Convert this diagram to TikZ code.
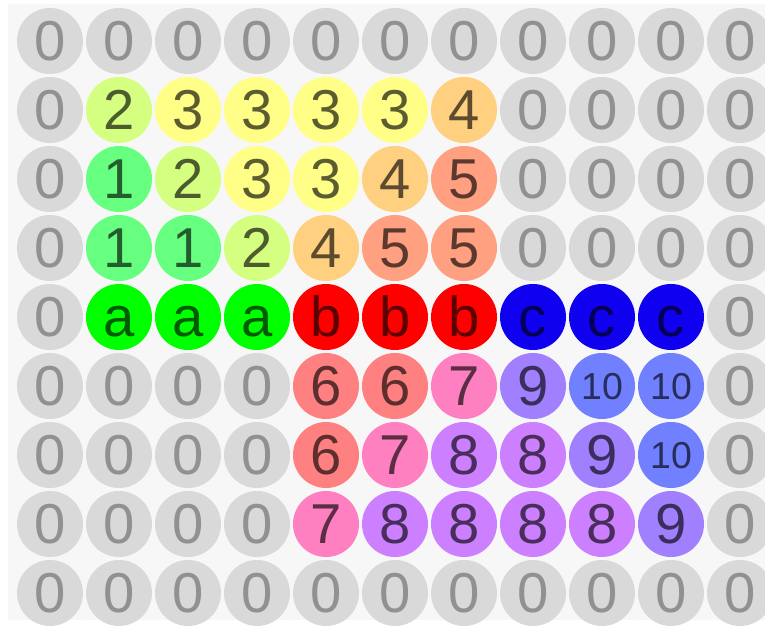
\documentclass[tikz,border=0pt]{standalone}
\usepackage{fontspec}
\setmainfont{Liberation Sans}
\usepackage{tikz}
\usetikzlibrary{positioning, calc}

\definecolor{bggrey}     {RGB}{247, 247, 247}
\definecolor{zerogrey}   {RGB}{217, 217, 217}
\definecolor{zerotext}   {RGB}{145, 145, 145}
\definecolor{valone}     {RGB}{102, 255, 128}
\definecolor{valtwo}     {RGB}{212, 255, 128}
\definecolor{valthree}   {RGB}{255, 255, 136}
\definecolor{valfour}    {RGB}{255, 208, 128}
\definecolor{valfive}    {RGB}{255, 160, 128}
\definecolor{valsix}     {RGB}{255, 128, 128}
\definecolor{valseven}   {RGB}{255, 128, 192}
\definecolor{valeight}   {RGB}{204, 128, 255}
\definecolor{valnine}    {RGB}{160, 128, 255}
\definecolor{valten}     {RGB}{112, 128, 255}
\definecolor{grpa}       {RGB}{  0, 255,   0}
\definecolor{grpb}       {RGB}{255,   0,   0}
\definecolor{grpc}       {RGB}{ 16,   0, 240}

\tikzset{
	cell/.style={circle, minimum size=1.98cm, inner sep=0pt,
		text height=34pt, text depth=0pt,
		font=\fontsize{48}{50}\selectfont, text=black, text opacity=0.64},
	v0/.style={fill=zerogrey, text=zerotext, text opacity=1},
	v1/.style={fill=valone},
	v2/.style={fill=valtwo},
	v3/.style={fill=valthree},
	v4/.style={fill=valfour},
	v5/.style={fill=valfive},
	v6/.style={fill=valsix},
	v7/.style={fill=valseven},
	v8/.style={fill=valeight},
	v9/.style={fill=valnine},
	v10/.style={fill=valten, font=\fontsize{32}{34}\selectfont, text height=23pt},
	va/.style={fill=grpa},
	vb/.style={fill=grpb},
	vc/.style={fill=grpc}
}

\begin{document}
\begin{tikzpicture}[x=0.03cm, y=-0.03cm]
	\fill[white] (0,0) rectangle (765,629);
	\clip (0,0) rectangle (765,629);
	\fill[bggrey] (8,4) rectangle (765,620);
	% grid of cells, row by row
	\foreach \cells [count=\r from 0] in {
		{0,0,0,0,0,0,0,0,0,0,0},
		{0,2,3,3,3,3,4,0,0,0,0},
		{0,1,2,3,3,4,5,0,0,0,0},
		{0,1,1,2,4,5,5,0,0,0,0},
		{0,a,a,a,b,b,b,c,c,c,0},
		{0,0,0,0,6,6,7,9,10,10,0},
		{0,0,0,0,6,7,8,8,9,10,0},
		{0,0,0,0,7,8,8,8,8,9,0},
		{0,0,0,0,0,0,0,0,0,0,0}}
	{
		\foreach \v [count=\c from 0] in \cells
			\node[cell, v\v] (n\r-\c) at ({50+69*\c}, {41+69*\r}) {\v};
	}
\end{tikzpicture}
\end{document}
